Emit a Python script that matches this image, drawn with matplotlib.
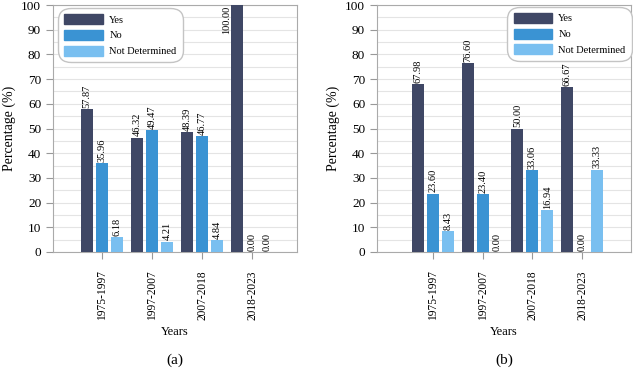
import numpy as np
import matplotlib.pyplot as plt
from matplotlib.patches import Patch

plt.rcParams['font.family'] = ['Liberation Serif', 'DejaVu Serif']

periods = ["1975-1997", "1997-2007", "2007-2018", "2018-2023"]
series = ["Yes", "No", "Not Determined"]

# panel (a)
yes_a = [57.87, 46.32, 48.39, 100.00]
no_a = [35.96, 49.47, 46.77, 0.00]
nd_a = [6.18, 4.21, 4.84, 0.00]

# panel (b)
yes_b = [67.98, 76.60, 50.00, 66.67]
no_b = [23.60, 23.40, 33.06, 0.00]
nd_b = [8.43, 0.00, 16.94, 33.33]

colors = ["#3f4765", "#3a93d3", "#79bff0"]

fig = plt.figure(figsize=(6.33, 3.68), dpi=100)
ax_a = fig.add_axes([53 / 633, 1 - 252 / 368, 244 / 633, 247 / 368])
ax_b = fig.add_axes([377 / 633, 1 - 252 / 368, 254 / 633, 247 / 368])


def draw(ax, data, xlim, leg_loc, leg_anchor, tag):
    x = np.arange(len(periods))
    offsets = [-0.3, 0, 0.3]
    for vals, off, c in zip(data, offsets, colors):
        ax.bar(x + off, vals, width=0.24, color=c, zorder=3)
        for xi, v in zip(x + off, vals):
            if v > 95:
                ax.text(xi - 0.2, 99.5, f"{v:.2f}", rotation=90, ha="center",
                        va="top", fontsize=7.5, zorder=4)
            else:
                ax.text(xi, v + 0.5, f"{v:.2f}", rotation=90, ha="center",
                        va="bottom", fontsize=7.5, zorder=4)
    ax.set_xlim(*xlim)
    ax.set_ylim(0, 100)
    ax.set_yticks(np.arange(0, 101, 10))
    ax.set_yticks(np.arange(0, 101, 5), minor=True)
    ax.grid(axis="y", which="both", color="#e4e4e4", linewidth=0.8, zorder=0)
    ax.set_xticks(x)
    ax.set_xticklabels(periods, rotation=90, fontsize=8.3)
    ax.tick_params(axis="y", labelsize=9.5, length=5, color="#999999")
    ax.tick_params(axis="y", which="minor", length=0)
    ax.tick_params(axis="x", length=5, color="#999999", pad=8)
    for s in ax.spines.values():
        s.set_color("#aaaaaa")
    ax.set_ylabel("Percentage (%)", fontsize=10, labelpad=4)
    ax.set_xlabel("Years", fontsize=9)
    handles = [Patch(color=c) for c in colors]
    leg = ax.legend(handles, series, loc=leg_loc, bbox_to_anchor=leg_anchor,
                    fontsize=7.5, handlelength=3.7, handleheight=1.1,
                    fancybox=True, framealpha=1, edgecolor="#c4c4c4",
                    borderpad=0.4, labelspacing=0.5, handletextpad=0.6,
                    borderaxespad=0)
    leg.get_frame().set_boxstyle("round,pad=0.2,rounding_size=1.2")
    ax.text(0.5, -0.44, tag, transform=ax.transAxes, ha="center", va="center",
            fontsize=11)


draw(ax_a, [yes_a, no_a, nd_a], (-0.98, 3.9), "upper left", (0.03, 0.98), "(a)")
draw(ax_b, [yes_b, no_b, nd_b], (-1.12, 3.98), "upper right", (0.995, 0.985), "(b)")

fig.savefig("out.png", dpi=100)
